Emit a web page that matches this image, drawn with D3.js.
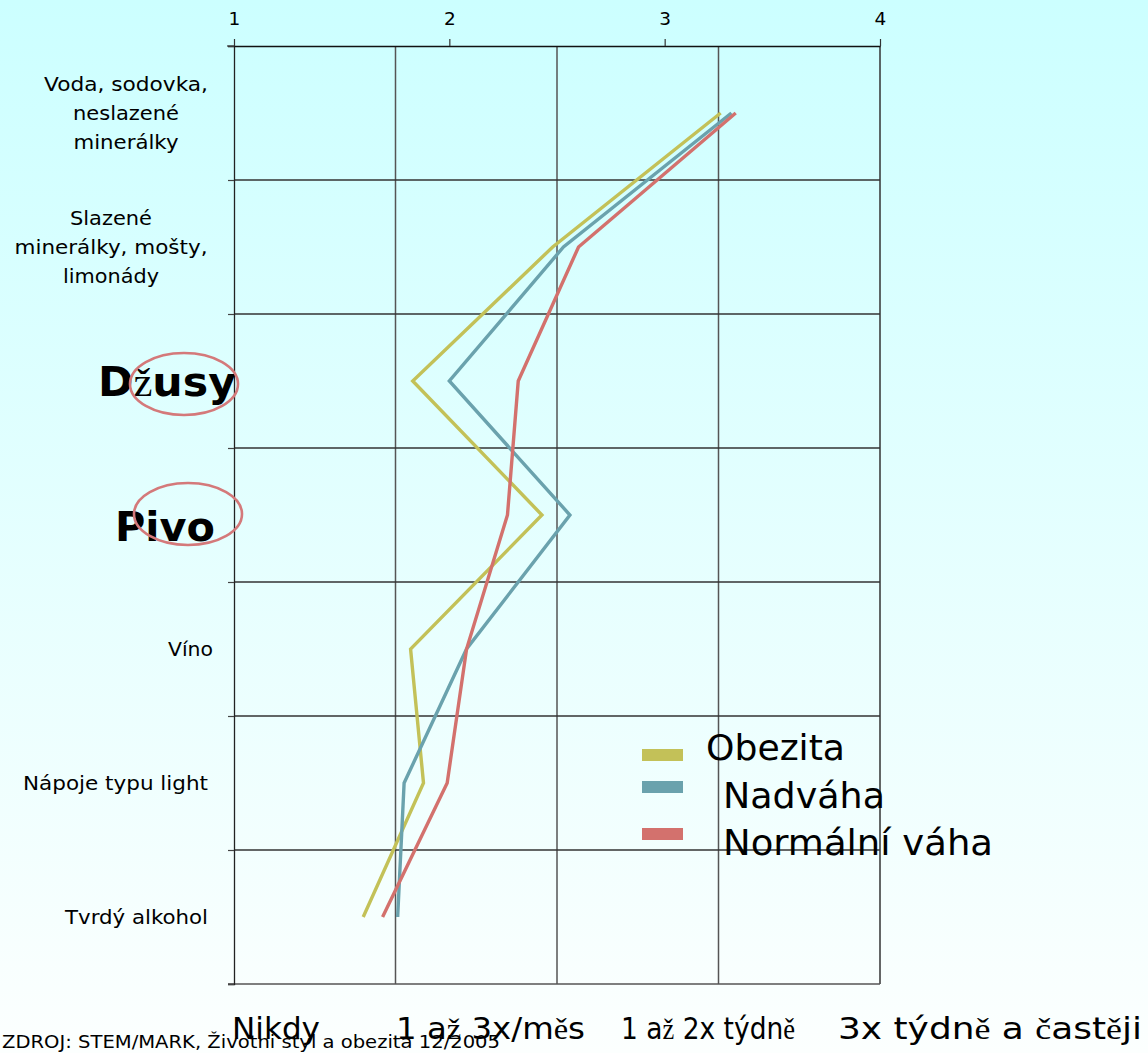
<!DOCTYPE html>
<html><head><meta charset="utf-8">
<script src="https://cdn.jsdelivr.net/npm/d3@7"></script>
<style>
html,body{margin:0;padding:0;overflow:hidden;}
svg{display:block;}
text{font-family:"DejaVu Sans",Verdana,sans-serif;fill:#000;}
</style></head>
<body>
<script>
// ---- data ----
const categories = [
  "Voda, sodovka, neslazené minerálky",
  "Slazené minerálky, mošty, limonády",
  "Džusy",
  "Pivo",
  "Víno",
  "Nápoje typu light",
  "Tvrdý alkohol"
];
const seriesNames = ["Obezita", " Nadváha", " Normální váha"];
const obezita  = [3.26, 2.48, 1.83, 2.43, 1.82, 1.88, 1.60];
const nadvaha  = [3.31, 2.53, 2.00, 2.56, 2.08, 1.79, 1.76];
const normalni = [3.33, 2.60, 2.32, 2.27, 2.08, 1.99, 1.69];
const tickValues = [1, 2, 3, 4];
const freqLabels = ["Nikdy", "1 až 3x/měs", "1 až 2x týdně", "3x týdně a častěji"];
const sourceText = "ZDROJ: STEM/MARK, Životni styl a obezita 12/2005";

// ---- layout ----
const W = 1148, H = 1053;
const L = 234, R = 880, T = 46, B = 984;
const colors = ["#c3c158", "#6aa2ad", "#d3716d"];
const series = [obezita, nadvaha, normalni];

const svg = d3.select("body").append("svg").attr("width", W).attr("height", H);
const defs = svg.append("defs");
const grad = defs.append("linearGradient").attr("id","bg").attr("x1",0).attr("y1",0).attr("x2",0).attr("y2",1);
grad.append("stop").attr("offset","0%").attr("stop-color","#ccffff");
grad.append("stop").attr("offset","100%").attr("stop-color","#fcfffe");
svg.append("rect").attr("width",W).attr("height",H).attr("fill","url(#bg)");

const x = d3.scaleLinear().domain([1,4]).range([L,R]);
const y = d3.scaleBand().domain(categories).range([T,B]).paddingInner(0).paddingOuter(0);
const yc = d => y(d) + y.bandwidth()/2;
const xq = d3.scaleLinear().domain([0,4]).range([L,R]); // quarter gridlines

// vertical gridlines
svg.append("g").selectAll("line").data([1,2,3]).join("line")
  .attr("x1", d=>xq(d)).attr("x2", d=>xq(d)).attr("y1",T).attr("y2",B)
  .attr("stroke","#555").attr("stroke-width",1.5);
svg.append("line").attr("x1",R).attr("x2",R).attr("y1",T).attr("y2",B)
  .attr("stroke","#333").attr("stroke-width",1.5);
// horizontal gridlines
const bounds = categories.map(c=>y(c)+y.bandwidth()).slice(0,-1);
svg.append("g").selectAll("line").data(bounds).join("line")
  .attr("x1",L).attr("x2",R).attr("y1",d=>d).attr("y2",d=>d)
  .attr("stroke","#333").attr("stroke-width",1.4);
svg.append("line").attr("x1",L-6).attr("x2",R).attr("y1",B).attr("y2",B)
  .attr("stroke","#555").attr("stroke-width",1.5);

// left axis (ticks at band boundaries)
const yb = d3.scaleLinear().domain([0,7]).range([T,B]);
const gl = svg.append("g").attr("transform",`translate(${L},0)`)
  .call(d3.axisLeft(yb).tickValues(d3.range(0,8)).tickSize(6).tickFormat(""));
gl.select(".domain").attr("stroke","#222").attr("stroke-width",1.3);
gl.selectAll(".tick line").attr("stroke","#444").attr("stroke-width",1.2);

// top axis
const gt = svg.append("g").attr("transform",`translate(0,${T})`)
  .call(d3.axisTop(x).tickValues(tickValues).tickSize(7).tickSizeOuter(0).tickFormat(d3.format("d")));
gt.attr("font-size", null).attr("font-family", null);
gt.select(".domain").attr("stroke","#111").attr("stroke-width",1.5);
gt.selectAll(".tick line").attr("stroke","#333").attr("stroke-width",1.2);
gt.selectAll(".tick text").style("font-family","DejaVu Sans").style("font-size","18.5px")
  .attr("fill","#111").attr("y",-21).attr("dy",0);
svg.append("line").attr("x1",L-7).attr("x2",L).attr("y1",T).attr("y2",T).attr("stroke","#333").attr("stroke-width",1.2);

// helper: serif fallback for certain glyphs
const serifChars = new Set(["ž","ě","č"]);
function fill(textSel, str){
  let buf = "", cur = null;
  const flush = () => { if(buf){ const t = textSel.append("tspan").text(buf);
      if(cur){ t.attr("font-family","Liberation Serif").attr("font-weight","normal"); } buf=""; } };
  for(const ch of str){
    const s = serifChars.has(ch);
    if(s !== cur){ flush(); cur = s; }
    buf += ch;
  }
  flush();
}
function fit(t, w){ t.attr("textLength", w).attr("lengthAdjust","spacingAndGlyphs"); return t; }

// category labels
const catLines = [
  ["Voda, sodovka,", "neslazené", "minerálky"],
  ["Slazené", "minerálky, mošty,", "limonády"],
  null, null,
  ["Víno"], ["Nápoje typu light"], ["Tvrdý alkohol"]
];
const catWidths = [[164,106,105],[82,193,96],null,null,[45],[185],[143]];
const labG = svg.append("g");
categories.forEach((c,i)=>{
  const lines = catLines[i];
  if(!lines) return;
  const cy = yc(c);
  if(lines.length>1){
    const cx = i===0 ? 126 : 111;
    lines.forEach((ln,j)=>{
      fit(labG.append("text").attr("x",cx).attr("y",cy - 29.3 + j*29.3 + 7)
        .attr("text-anchor","middle").attr("font-size",20).text(ln), catWidths[i][j]);
    });
  } else {
    fit(labG.append("text").attr("x", i===4 ? 213 : 208).attr("y", cy + 7)
      .attr("text-anchor","end").attr("font-size",20).text(lines[0]), catWidths[i][0]);
  }
});
// big bold labels
const dz = labG.append("text").attr("x",98).attr("y",yc(categories[2])+15)
  .attr("font-size",41).attr("font-weight","bold");
fill(dz, categories[2]);
fit(dz, 138);
fit(labG.append("text").attr("x",115).attr("y",yc(categories[3])+26)
  .attr("font-size",41).attr("font-weight","bold").text(categories[3]), 100);
// highlight ellipses
labG.append("ellipse").attr("cx",184).attr("cy",yc(categories[2])+3).attr("rx",54).attr("ry",31)
  .attr("fill","none").attr("stroke","#d4797a").attr("stroke-width",2.6);
labG.append("ellipse").attr("cx",188).attr("cy",yc(categories[3])-1).attr("rx",54).attr("ry",31)
  .attr("fill","none").attr("stroke","#d4797a").attr("stroke-width",2.6);

// lines
const line = d3.line().x(d=>x(d.v)).y(d=>yc(d.c));
series.forEach((s,k)=>{
  svg.append("path").datum(s.map((v,i)=>({v, c:categories[i]})))
    .attr("d", line).attr("fill","none").attr("stroke",colors[k])
    .attr("stroke-width",3.4).attr("stroke-linejoin","miter");
});

// legend
const legY = [755, 787, 834];
const legTextY = [760, 808, 855];
const legTX = [706, 723, 723];
const legW = [139, 162, 270];
seriesNames.forEach((n,k)=>{
  svg.append("rect").attr("x",642).attr("y",legY[k]-6).attr("width",41).attr("height",12).attr("fill",colors[k]);
  fit(svg.append("text").attr("x",legTX[k]).attr("y",legTextY[k]).attr("font-size",35.5)
    .text(n.trim()), legW[k]);
});

// bottom frequency labels
const fX = [232, 396, 621, 838];
const fW = [88, 189, 174, 304];
freqLabels.forEach((f,i)=>{
  const t = svg.append("text").attr("x",fX[i]).attr("y",1039).attr("font-size",30);
  fill(t, f);
  fit(t, fW[i]);
});
// source
fit(svg.append("text").attr("x",2).attr("y",1048).attr("font-size",17.5).text(sourceText), 498);
</script>
</body></html>
